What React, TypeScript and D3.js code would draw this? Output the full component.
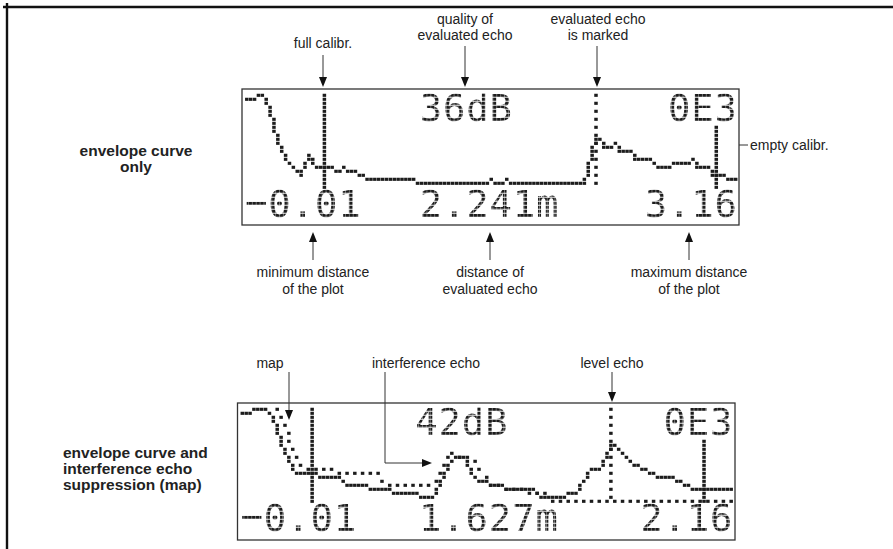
import React from "react";
import * as d3 from "d3";

// ---------------- data ----------------
// distances in m, levels in dB (display level axis 0..48 dB)
const display1Range: [number, number] = [-0.01, 3.16];
const display1Envelope: [number, number][] = [
  [-0.01, 46], [0.04, 46], [0.065, 48], [0.09, 48], [0.115, 46], [0.215, 20], [0.265, 14],
  [0.314, 10], [0.339, 8], [0.389, 18], [0.414, 14], [0.439, 12], [0.539, 12], [0.564, 10],
  [0.589, 10], [0.614, 12], [0.639, 10], [0.689, 10], [0.739, 8], [0.764, 6], [1.063, 6],
  [1.088, 4], [1.538, 4], [1.563, 6], [1.588, 4], [1.637, 4], [1.662, 6], [1.687, 4],
  [2.162, 4], [2.236, 26], [2.261, 26], [2.286, 22], [2.336, 22], [2.361, 24], [2.386, 20],
  [2.461, 20], [2.486, 16], [2.586, 16], [2.611, 14], [2.636, 12], [2.711, 12], [2.736, 14],
  [2.836, 14], [2.861, 16], [2.886, 12], [2.96, 12], [2.985, 8], [3.06, 8], [3.11, 6], [3.135, 6],
];
const display1Marks = { fullCalibr: 0.5, echo: 2.241, emptyCalibr: 3.02 };
const display1TopText = ["36dB", "0E3"];
const display1BottomText = ["0.01", "2.241m", "3.16"];

const display2Range: [number, number] = [-0.01, 2.16];
const display2Envelope: [number, number][] = [
  [-0.01, 46], [0.024, 46], [0.041, 48], [0.093, 48], [0.11, 46], [0.127, 42], [0.144, 38],
  [0.161, 30], [0.178, 26], [0.195, 22], [0.229, 16], [0.315, 16], [0.332, 14], [0.417, 14],
  [0.434, 12], [0.451, 10], [0.52, 10], [0.571, 8], [0.639, 8], [0.656, 6], [0.759, 6],
  [0.776, 4], [0.827, 4], [0.896, 20], [0.913, 22], [0.93, 24], [0.964, 24], [0.981, 20],
  [1.015, 14], [1.032, 12], [1.066, 12], [1.084, 10], [1.135, 10], [1.152, 8], [1.272, 8],
  [1.306, 4], [1.408, 4], [1.425, 6], [1.459, 6], [1.528, 18], [1.562, 18], [1.596, 24],
  [1.613, 30], [1.63, 30], [1.716, 20], [1.767, 18], [1.784, 16], [1.835, 14], [1.87, 14],
  [1.921, 12], [1.938, 10], [1.989, 8], [2.006, 8], [2.143, 8],
];
const display2Map: [number, number][] = [
  [0.144, 48], [0.161, 46], [0.178, 40], [0.195, 34], [0.212, 28], [0.229, 24], [0.263, 18],
  [0.4, 18], [0.434, 16], [0.588, 16], [0.622, 10], [0.827, 10], [0.844, 14], [0.879, 22],
  [0.896, 26], [0.913, 26], [0.93, 24], [0.998, 24], [1.049, 16], [1.084, 10], [1.186, 8],
  [1.323, 6], [1.357, 2], [2.143, 2],
];
const display2Marks = { fullCalibr: 0.3, echo: 1.627, emptyCalibr: 2.03 };
const display2TopText = ["42dB", "0E3"];
const display2BottomText = ["0.01", "1.627m", "2.16"];

const topLabels = [
  { lines: ["full calibr."], x: 323, y: 48 },
  { lines: ["quality of", "evaluated echo"], x: 465, y: 24 },
  { lines: ["evaluated echo", "is marked"], x: 598, y: 24 },
];
const bottomLabels = [
  { lines: ["minimum distance", "of the plot"], x: 313, y: 277 },
  { lines: ["distance of", "evaluated echo"], x: 490, y: 277 },
  { lines: ["maximum distance", "of the plot"], x: 689, y: 277 },
];
const display2Labels = [
  { text: "map", x: 270 },
  { text: "interference echo", x: 426 },
  { text: "level echo", x: 612 },
];
const sideLabel1 = ["envelope curve", "only"];
const sideLabel2 = ["envelope curve and", "interference echo", "suppression (map)"];

// ---------------- LCD geometry ----------------
const PX = 3.88;
const PY = 4.0;
const DW = 3.5;
const DH = 3.1;
const COL0 = 4.8;
const ROW0 = 6.3;
const INK = "#1c1c1c";
const LABEL_FONT = "'Liberation Sans Narrow', 'Arial Narrow', 'Liberation Sans', Arial, sans-serif";

type Cell = [number, number];

function bresenham(a: Cell, b: Cell): Cell[] {
  let [x0, y0] = a;
  const [x1, y1] = b;
  const dx = Math.abs(x1 - x0), dy = -Math.abs(y1 - y0);
  const sx = x0 < x1 ? 1 : -1, sy = y0 < y1 ? 1 : -1;
  let err = dx + dy;
  const out: Cell[] = [];
  for (;;) {
    out.push([x0, y0]);
    if (x0 === x1 && y0 === y1) break;
    const e2 = 2 * err;
    if (e2 >= dy) { err += dy; x0 += sx; }
    if (e2 <= dx) { err += dx; y0 += sy; }
  }
  return out;
}

function rasterize(pts: [number, number][], xs: (v: number) => number, ys: (v: number) => number): Cell[] {
  const cells: Cell[] = pts.map(([d, l]) => [Math.round(xs(d)), Math.round(ys(l))]);
  const out: Cell[] = [];
  const seen = new Set<string>();
  for (let i = 0; i < cells.length - 1; i++) {
    for (const p of bresenham(cells[i], cells[i + 1])) {
      const k = p[0] + "," + p[1];
      if (!seen.has(k)) { seen.add(k); out.push(p); }
    }
  }
  return out;
}

function Lcd(props: {
  id: string; fx: number; fy: number; w: number; h: number;
  range: [number, number]; envelope: [number, number][]; map?: [number, number][];
  marks: { fullCalibr: number; echo: number; emptyCalibr: number };
  top: string[]; bottom: string[]; topCols: number[]; bottomCols: number[];
}) {
  const { id, fx, fy, w, h, range, envelope, map, marks, top, bottom, topCols, bottomCols } = props;
  const xs = d3.scaleLinear().domain(range).range([0, 127]);
  const ys = d3.scaleLinear().domain([0, 48]).range([24, 0]);
  const cx = (c: number) => fx + COL0 + c * PX;
  const cy = (r: number) => fy + ROW0 + r * PY;

  const env = rasterize(envelope, xs, ys);
  const mapCells = map ? rasterize(map, xs, ys).filter((_, i) => i % 2 === 0) : [];
  const vline = (d: number, r0: number, r1: number, step: number): Cell[] => {
    const c = Math.floor(xs(d));
    return d3.range(r0, r1 + 1, step).map((r) => [c, r] as Cell);
  };
  const markCells = [
    ...vline(marks.fullCalibr, 0, 23, 1),
    ...vline(marks.echo, 0, 23, 2),
    ...vline(marks.emptyCalibr, 8, 23, 1),
  ];
  const all = [...env, ...mapCells, ...markCells].filter(([c]) => c >= 0 && c <= 126);

  const fontSize = 37.3;
  const ls = 6 * PX - 0.602 * fontSize;
  const baseTop = cy(6) + DH / 2;
  const baseBottom = cy(30) + DH / 2;
  const textStyle = {
    fontFamily: "'DejaVu Sans Mono', monospace",
    fontSize,
    letterSpacing: ls,
  } as React.CSSProperties;

  return (
    <g>
      <defs>
        <pattern id={id + "-grid"} patternUnits="userSpaceOnUse" x={cx(0) - DW / 2} y={cy(0) - DH / 2} width={PX} height={PY}>
          <rect width={DW} height={DH} fill="white" />
        </pattern>
        <mask id={id + "-mask"} maskUnits="userSpaceOnUse" x={fx} y={fy} width={w} height={h}>
          <rect x={fx} y={fy} width={w} height={h} fill={`url(#${id}-grid)`} />
        </mask>
      </defs>
      <rect x={fx} y={fy} width={w} height={h} fill="white" stroke="#333" strokeWidth={1.3} />
      {all.map(([c, r], i) => (
        <rect key={i} x={cx(c) - DW / 2} y={cy(r) - DH / 2} width={DW} height={DH} fill={INK} />
      ))}
      <g mask={`url(#${id}-mask)`} fill={INK} style={textStyle}>
        {top.map((t, i) => (
          <text key={"t" + i} x={cx(topCols[i]) - DW / 2} y={baseTop}>{t}</text>
        ))}
        {bottom.map((t, i) =>
          i === 0 ? (
            <text key={"b" + i} x={cx(bottomCols[i]) - DW / 2} y={baseBottom}>
              <tspan dy={-1.5}>−</tspan>
              <tspan dy={1.5}>{t}</tspan>
            </text>
          ) : (
            <text key={"b" + i} x={cx(bottomCols[i]) - DW / 2} y={baseBottom}>{t}</text>
          )
        )}
      </g>
    </g>
  );
}

function Arrow({ pts }: { pts: [number, number][] }) {
  const n = pts.length;
  const [x2, y2] = pts[n - 1];
  const [x1, y1] = pts[n - 2];
  const len = Math.hypot(x2 - x1, y2 - y1);
  const ux = (x2 - x1) / len, uy = (y2 - y1) / len;
  const HL = 10, HW = 4;
  const bx = x2 - ux * HL, by = y2 - uy * HL;
  const line = [...pts.slice(0, n - 1), [bx, by]].map((p) => p.join(",")).join(" ");
  const head = `M${x2},${y2}L${bx - uy * HW},${by + ux * HW}L${bx + uy * HW},${by - ux * HW}Z`;
  return (
    <g>
      <polyline points={line} fill="none" stroke="#333" strokeWidth={1} />
      <path d={head} fill="#111" />
    </g>
  );
}

export default function App() {
  const labelStyle: React.CSSProperties = { fontFamily: LABEL_FONT, fontSize: 14, fill: "#222" };
  const boldStyle: React.CSSProperties = { fontFamily: "'Liberation Sans', Arial, sans-serif", fontSize: 15.5, fontWeight: "bold", fill: "#222" };
  return (
    <svg width={893} height={549} style={{ position: "absolute", left: 0, top: 0, display: "block", background: "white" }}>
      <rect x={0} y={0} width={893} height={549} fill="white" />
      <line x1={3} y1={7} x2={893} y2={7} stroke="#111" strokeWidth={2.4} />
      <line x1={7} y1={3} x2={7} y2={549} stroke="#111" strokeWidth={2.4} />

      {/* top annotations */}
      {topLabels.map((l, i) => (
        <text key={i} textAnchor="middle" style={labelStyle}>
          {l.lines.map((s, j) => (
            <tspan key={j} x={l.x} y={l.y + j * 16}>{s}</tspan>
          ))}
        </text>
      ))}
      <Arrow pts={[[323, 55], [323, 87]]} />
      <Arrow pts={[[465, 46], [465, 87]]} />
      <Arrow pts={[[597, 46], [597, 87]]} />
      <text x={750} y={150} style={labelStyle}>empty calibr.</text>
      <Arrow pts={[[748, 145], [722, 145]]} />

      <Lcd id="d1" fx={242} fy={89} w={497} h={136} range={display1Range} envelope={display1Envelope}
        marks={display1Marks} top={display1TopText} bottom={display1BottomText}
        topCols={[45, 109]} bottomCols={[0, 45, 103]} />

      {bottomLabels.map((l, i) => (
        <g key={i}>
          <Arrow pts={[[l.x, 260], [l.x, 232]]} />
          <text textAnchor="middle" style={labelStyle}>
            {l.lines.map((s, j) => (
              <tspan key={j} x={l.x} y={l.y + j * 17}>{s}</tspan>
            ))}
          </text>
        </g>
      ))}

      <text textAnchor="middle" style={boldStyle}>
        {sideLabel1.map((s, j) => (
          <tspan key={j} x={136} y={156 + j * 16}>{s}</tspan>
        ))}
      </text>

      {display2Labels.map((l, i) => (
        <text key={i} x={l.x} y={368} textAnchor="middle" style={labelStyle}>{l.text}</text>
      ))}

      <Lcd id="d2" fx={237.5} fy={403} w={497.5} h={137} range={display2Range} envelope={display2Envelope}
        map={display2Map} marks={display2Marks} top={display2TopText} bottom={display2BottomText}
        topCols={[45, 109]} bottomCols={[0, 46, 103]} />

      <Arrow pts={[[289, 372], [289, 420]]} />
      <Arrow pts={[[385, 372], [385, 463], [432, 463]]} />
      <Arrow pts={[[612, 372], [612, 402]]} />

      <text style={boldStyle}>
        {sideLabel2.map((s, j) => (
          <tspan key={j} x={63} y={458 + j * 16}>{s}</tspan>
        ))}
      </text>
    </svg>
  );
}
